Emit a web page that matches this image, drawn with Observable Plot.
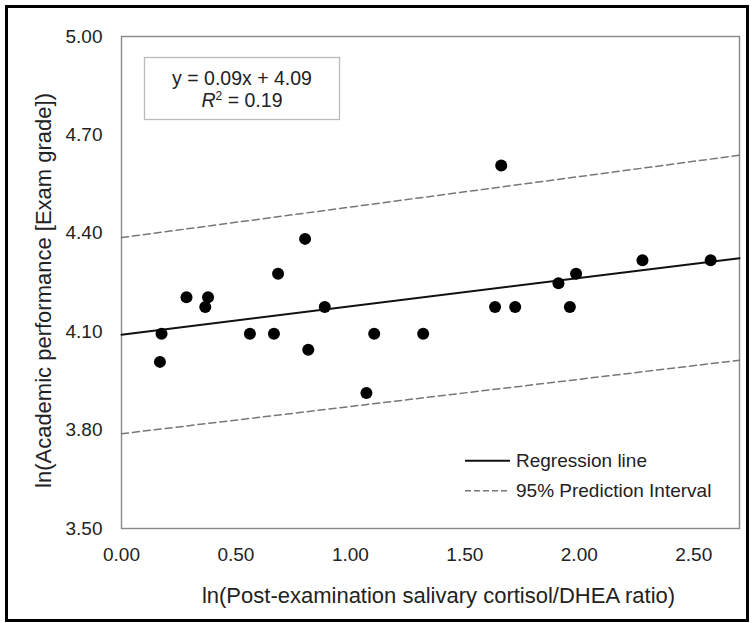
<!DOCTYPE html>
<html>
<head>
<meta charset="utf-8">
<script src="https://cdn.jsdelivr.net/npm/d3@7"></script>
<script src="https://cdn.jsdelivr.net/npm/@observablehq/plot@0.6"></script>
<style>
  html, body { margin: 0; padding: 0; background: #fff; }
  svg { display: block; }
  #chart svg g[aria-label*="axis"] text { font-size: 19px; fill: #222; }
</style>
</head>
<body>
<div id="chart"></div>
<script>
// ---- data ----
const cortisolRatio = [0.168, 0.175, 0.284, 0.366, 0.378, 0.561, 0.666, 0.684, 0.802, 0.816, 0.888,
                       1.070, 1.104, 1.318, 1.632, 1.659, 1.720, 1.909, 1.959, 1.986, 2.276, 2.574];
const examGrade     = [4.008, 4.094, 4.205, 4.175, 4.205, 4.094, 4.094, 4.277, 4.383, 4.045, 4.175,
                       3.913, 4.094, 4.094, 4.175, 4.607, 4.175, 4.248, 4.175, 4.277, 4.318, 4.318];
const lineX   = [0, 2.7];
const fitY    = [4.091, 4.324];
const piUpper = [4.387, 4.638];
const piLower = [3.789, 4.013];
const xTicks = [0, 0.5, 1.0, 1.5, 2.0, 2.5];
const yTicks = [3.5, 3.8, 4.1, 4.4, 4.7, 5.0];
const xTitle = "ln(Post-examination salivary cortisol/DHEA ratio)";
const yTitle = "ln(Academic performance [Exam grade])";
const equationText = "y = 0.09x + 4.09";
const r2Value = "0.19";
const legendLabels = ["Regression line", "95% Prediction Interval"];

const points = cortisolRatio.map((x, i) => ({x, y: examGrade[i]}));
const fit = lineX.map((x, i) => ({x, y: fitY[i]}));
const upper = lineX.map((x, i) => ({x, y: piUpper[i]}));
const lower = lineX.map((x, i) => ({x, y: piLower[i]}));

const FONT = "'Liberation Sans', Arial, Helvetica, sans-serif";
const fmt = d3.format(".2f");

const chart = Plot.plot({
  width: 752,
  height: 623,
  marginLeft: 121,
  marginRight: 13,
  marginTop: 36,
  marginBottom: 95,
  style: {fontFamily: FONT, fontSize: "19px", color: "#222", background: "#fff"},
  x: {domain: [0, 2.7], ticks: xTicks, tickFormat: fmt, tickSize: 0, tickPadding: 19, label: null},
  y: {domain: [3.5, 5.0], ticks: yTicks, tickFormat: fmt, tickSize: 0, tickPadding: 19, label: null},
  marks: [
    Plot.frame({stroke: "#888", strokeWidth: 1.4}),
    Plot.line(upper, {x: "x", y: "y", stroke: "#777", strokeWidth: 1.5, strokeDasharray: "7,4"}),
    Plot.line(lower, {x: "x", y: "y", stroke: "#777", strokeWidth: 1.5, strokeDasharray: "7,4"}),
    Plot.line(fit, {x: "x", y: "y", stroke: "#111", strokeWidth: 2}),
    Plot.dot(points, {x: "x", y: "y", r: 6, fill: "#000", stroke: "none"}),
    Plot.text([xTitle], {frameAnchor: "bottom", text: d => d, dx: 8, dy: 67, fontSize: 22, fill: "#222",
                         textAnchor: "middle", lineAnchor: "middle"}),
    Plot.text([yTitle], {frameAnchor: "left", text: d => d, dx: -78, dy: 8, rotate: -90, fontSize: 22, fill: "#222",
                         textAnchor: "middle", lineAnchor: "middle"})
  ]
});

document.getElementById("chart").appendChild(chart);

// ---- decorations: outer border, equation box, legend ----
const svg = d3.select(chart);
svg.append("rect")
  .attr("x", 6.5).attr("y", 6.5).attr("width", 741).attr("height", 614)
  .attr("fill", "none").attr("stroke", "#000").attr("stroke-width", 3);

const eq = svg.append("g").attr("font-family", FONT).attr("fill", "#222");
eq.append("rect")
  .attr("x", 144.5).attr("y", 57.5).attr("width", 195).attr("height", 62)
  .attr("fill", "#fff").attr("stroke", "#bbb").attr("stroke-width", 1.3);
eq.append("text").attr("x", 242).attr("y", 85).attr("text-anchor", "middle")
  .attr("font-size", 19.5).text(equationText);
const r2 = eq.append("text").attr("x", 242).attr("y", 107.3).attr("text-anchor", "middle")
  .attr("font-size", 19.5);
r2.append("tspan").attr("font-style", "italic").text("R");
r2.append("tspan").attr("font-size", 12).attr("dy", -7).text("2");
r2.append("tspan").attr("dy", 7).text(" = " + r2Value);

const lg = svg.append("g").attr("font-family", FONT).attr("fill", "#222").attr("font-size", 19);
lg.append("line").attr("x1", 465).attr("x2", 510).attr("y1", 460.7).attr("y2", 460.7)
  .attr("stroke", "#111").attr("stroke-width", 2);
lg.append("line").attr("x1", 465).attr("x2", 510).attr("y1", 490.7).attr("y2", 490.7)
  .attr("stroke", "#777").attr("stroke-width", 1.5).attr("stroke-dasharray", "6,3");
lg.append("text").attr("x", 516).attr("y", 466.5).attr("text-anchor", "start").text(legendLabels[0]);
lg.append("text").attr("x", 516).attr("y", 496.7).attr("text-anchor", "start").text(legendLabels[1]);
</script>
</body>
</html>
